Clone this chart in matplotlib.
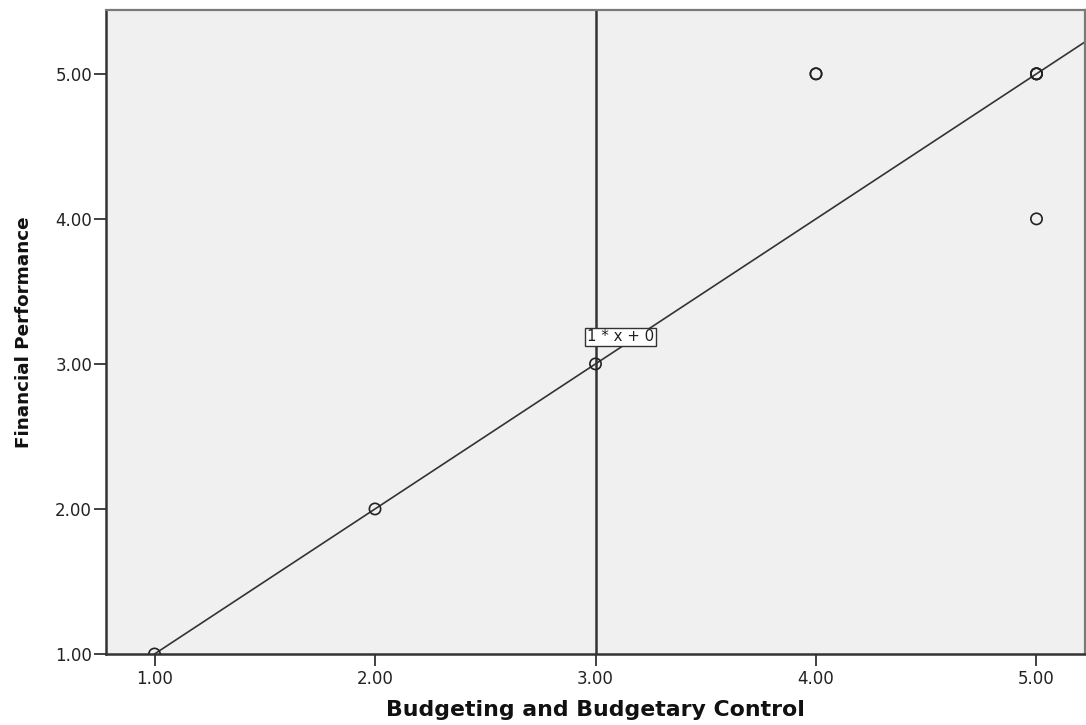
import matplotlib.pyplot as plt
import numpy as np

# scores for each respondent (duplicates drawn on top of each other)
budget_control = [1, 2, 3, 4, 4, 5, 5, 5, 5]
fin_performance = [1, 2, 3, 5, 5, 5, 5, 5, 4]

# reference line y = slope * x + intercept
slope, intercept = 1, 0
mean_line_x = 3.0

x_ticks = [1, 2, 3, 4, 5]
y_ticks = [1, 2, 3, 4, 5]

plt.rcParams['font.family'] = ['DejaVu Sans']

fig = plt.figure(figsize=(10.86, 7.25), dpi=100)
ax = fig.add_axes([106 / 1086, 1 - 654 / 725, 979 / 1086, 644 / 725])
ax.set_facecolor('#f0f0f0')

xmin, xmax = 0.78, 5.22
ymin, ymax = 1.0, 5.44
ax.set_xlim(xmin, xmax)
ax.set_ylim(ymin, ymax)

# fit line across the full x range
xs = np.array([xmin, xmax])
ax.plot(xs, slope * xs + intercept, color='#333333', linewidth=1.2, zorder=2)

# vertical line
ax.axvline(mean_line_x, color='#333333', linewidth=1.8, zorder=2)

ax.scatter(budget_control, fin_performance, s=66, facecolors='none',
           edgecolors='#222222', linewidths=1.2, zorder=3)

ax.text(3.113, 3.186, f'{slope} * x + {intercept}', fontsize=10.8, ha='center', va='center',
        color='#222222',
        bbox=dict(boxstyle='square,pad=0.12', facecolor='white', edgecolor='#333333', linewidth=1.0),
        zorder=4)

ax.set_xticks(x_ticks)
ax.set_yticks(y_ticks)
ax.set_xticklabels([f'{v:.2f}' for v in x_ticks])
ax.set_yticklabels([f'{v:.2f}' for v in y_ticks])
ax.tick_params(direction='out', length=8.5, width=1.3, color='#333333',
               labelsize=12, labelcolor='#222222')
ax.tick_params(axis='y', pad=1.5)
ax.tick_params(axis='x', pad=3)

for side in ['left', 'bottom']:
    ax.spines[side].set_color('#333333')
    ax.spines[side].set_linewidth(1.8)
for side in ['top', 'right']:
    ax.spines[side].set_color('#7a7a7a')
    ax.spines[side].set_linewidth(1.6)

ax.set_xlabel('Budgeting and Budgetary Control', fontsize=15.8, fontweight='bold', color='#111111')
ax.set_ylabel('Financial Performance', fontsize=13.2, fontweight='bold', color='#111111')
ax.xaxis.label.set_va('center')
ax.yaxis.label.set_va('center')
ax.xaxis.set_label_coords(0.5, -0.087)
ax.yaxis.set_label_coords(-0.0838, 0.5)

plt.savefig('out.png', dpi=100)
